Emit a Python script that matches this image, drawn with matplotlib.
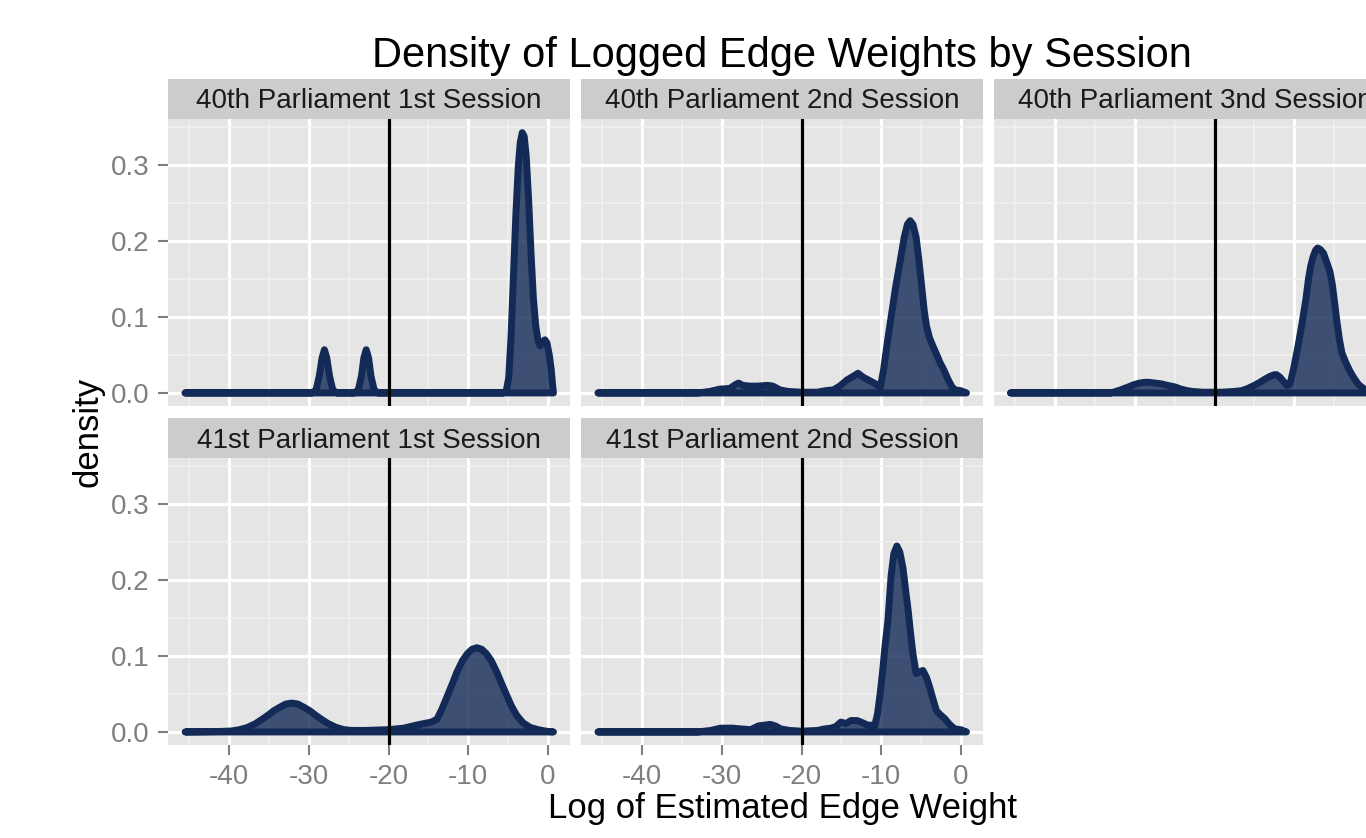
import matplotlib
matplotlib.use("Agg")
import matplotlib.pyplot as plt
from matplotlib.colors import to_rgba

plt.rcParams['font.family'] = ['Liberation Sans', 'DejaVu Sans']
plt.rcParams['axes.unicode_minus'] = False

# ---------------- data ----------------
TITLE = "Density of Logged Edge Weights by Session"
XLABEL = "Log of Estimated Edge Weight"
YLABEL = "density"
sessions = ["40th Parliament 1st Session", "40th Parliament 2nd Session",
            "40th Parliament 3nd Session", "41st Parliament 1st Session",
            "41st Parliament 2nd Session"]
threshold = -20
x_ticks = [-40, -30, -20, -10, 0]
x_tick_labels = ["-40", "-30", "-20", "-10", "0"]
x_minor = [-45, -35, -25, -15, -5]
y_ticks = [0.0, 0.1, 0.2, 0.3]
y_tick_labels = ["0.0", "0.1", "0.2", "0.3"]
y_minor = [0.05, 0.15, 0.25, 0.35]

s1_x = [-45.55, -29.6, -29.1, -28.7, -28.35, -28.05, -27.75, -27.4, -27.0, -26.5,
        -24.3, -23.8, -23.4, -23.1, -22.8, -22.5, -22.2, -21.8, -21.3,
        -5.6, -5.2, -4.9, -4.6, -4.3, -4.0, -3.7, -3.45, -3.2, -2.95, -2.7, -2.4,
        -2.1, -1.8, -1.5, -1.2, -0.95, -0.65, -0.35, -0.1, 0.2, 0.45, 0.6, 0.72]
s1_y = [0, 0, 0.004, 0.022, 0.046, 0.057, 0.046, 0.022, 0.004, 0,
        0, 0.004, 0.022, 0.046, 0.057, 0.046, 0.022, 0.004, 0,
        0, 0.003, 0.02, 0.075, 0.155, 0.235, 0.298, 0.33, 0.343, 0.338, 0.312, 0.255,
        0.185, 0.125, 0.088, 0.068, 0.062, 0.067, 0.070, 0.066, 0.05, 0.03, 0.012, 0]

s2_x = [-45.55, -33.0, -31.5, -30.3, -29.0, -28.3, -27.9, -27.4, -26.5, -25.5,
        -24.3, -23.6, -22.7, -21.7, -20.0, -18.0, -17.0, -16.0, -15.2, -14.3,
        -13.5, -12.9, -12.3, -11.4, -10.7, -10.1, -9.7, -9.2, -8.7, -8.2,
        -7.7, -7.1, -6.7, -6.35, -6.0, -5.6, -5.2, -4.9, -4.6, -4.3,
        -3.9, -3.5, -3.0, -2.6, -2.1, -1.6, -1.1, -0.7, 0.0, 0.72]
s2_y = [0, 0, 0.002, 0.005, 0.006, 0.011, 0.013, 0.010, 0.009, 0.009,
        0.010, 0.009, 0.004, 0.002, 0.001, 0.001, 0.003, 0.004, 0.009, 0.017,
        0.022, 0.026, 0.021, 0.016, 0.012, 0.007, 0.03, 0.068, 0.103, 0.138,
        0.168, 0.205, 0.222, 0.227, 0.222, 0.205, 0.17, 0.14, 0.11, 0.088,
        0.072, 0.062, 0.050, 0.040, 0.030, 0.018, 0.008, 0.004, 0.003, 0]

s3_x = [-45.6, -33.0, -31.8, -30.8, -30.1, -29.4, -28.8, -28.2, -27.5, -26.7,
        -25.9, -25.0, -24.2, -23.4, -22.8, -21.5, -19.0, -17.5, -16.6, -15.8,
        -15.0, -14.3, -13.7, -13.0, -12.5, -12.2, -11.8, -11.4, -10.9, -10.5,
        -10.0, -9.5, -9.0, -8.5, -8.2, -7.9, -7.6, -7.3, -7.05, -6.7,
        -6.3, -5.9, -5.5, -5.2, -4.9, -4.6, -4.3, -4.0, -3.5, -3.0,
        -2.5, -1.9, -1.3, -0.7, 0.0, 0.72]
s3_y = [0, 0, 0.004, 0.008, 0.011, 0.013, 0.014, 0.014, 0.013, 0.012,
        0.010, 0.008, 0.005, 0.003, 0.002, 0.001, 0.001, 0.002, 0.003, 0.006,
        0.010, 0.014, 0.018, 0.022, 0.024, 0.024, 0.021, 0.016, 0.010, 0.012,
        0.035, 0.062, 0.092, 0.125, 0.150, 0.168, 0.180, 0.188, 0.191, 0.189,
        0.184, 0.172, 0.160, 0.143, 0.118, 0.092, 0.070, 0.053, 0.040, 0.029,
        0.020, 0.011, 0.006, 0.003, 0.002, 0]

s4_x = [-45.55, -41.5, -39.7, -38.7, -37.7, -36.7, -35.9, -35.15, -34.4, -33.65,
        -32.9, -32.15, -31.4, -30.65, -29.9, -29.15, -28.4, -27.65, -26.65, -25.65,
        -24.65, -23.0, -20.0, -18.1, -16.5, -15.6, -14.6, -13.9, -13.3, -12.7,
        -12.0, -11.4, -10.7, -10.1, -9.5, -8.9, -8.3, -7.7, -7.1, -6.4,
        -5.8, -5.1, -4.5, -3.9, -3.1, -2.2, -1.2, -0.2, 0.72]
s4_y = [0, 0.0005, 0.0013, 0.003, 0.006, 0.011, 0.0165, 0.022, 0.028, 0.0326,
        0.0368, 0.038, 0.0368, 0.0326, 0.028, 0.022, 0.0165, 0.0114, 0.0063, 0.0031,
        0.002, 0.002, 0.003, 0.005, 0.009, 0.011, 0.013, 0.017, 0.030, 0.045,
        0.063, 0.079, 0.094, 0.103, 0.109, 0.111, 0.109, 0.103, 0.094, 0.079,
        0.064, 0.047, 0.033, 0.022, 0.012, 0.006, 0.003, 0.001, 0]

s5_x = [-45.55, -33.0, -31.4, -30.2, -29.4, -28.7, -27.6, -26.4, -25.4, -24.6,
        -23.95, -23.3, -22.6, -21.5, -20.0, -18.0, -17.1, -16.3, -15.7, -15.05,
        -14.4, -13.8, -13.0, -12.3, -11.7, -11.25, -10.85, -10.45, -10.1, -9.8,
        -9.5, -9.15, -8.75, -8.4, -8.02, -7.65, -7.25, -6.9, -6.6, -6.3,
        -6.0, -5.6, -5.2, -4.75, -4.3, -3.9, -3.5, -3.05, -2.5, -2.0,
        -1.4, -0.75, 0.0, 0.72]
s5_y = [0, 0, 0.002, 0.005, 0.005, 0.005, 0.004, 0.003, 0.008, 0.009,
        0.010, 0.008, 0.004, 0.002, 0.001, 0.002, 0.004, 0.005, 0.007, 0.013,
        0.011, 0.015, 0.015, 0.012, 0.009, 0.009, 0.006, 0.024, 0.052, 0.081,
        0.114, 0.146, 0.205, 0.235, 0.245, 0.237, 0.216, 0.185, 0.160, 0.130,
        0.103, 0.077, 0.079, 0.081, 0.072, 0.059, 0.044, 0.028, 0.022, 0.0175,
        0.010, 0.004, 0.003, 0]

series = [(s1_x, s1_y), (s2_x, s2_y), (s3_x, s3_y), (s4_x, s4_y), (s5_x, s5_y)]

# ---------------- style / layout ----------------
W, H, DPI = 1366, 838, 100
NAVY = "#132a57"
XLIM = (-47.7, 2.8)
YLIM = (-0.0172, 0.361)

fig = plt.figure(figsize=(W / DPI, H / DPI), dpi=DPI)
fig.patch.set_facecolor('white')


def px_axes(left, top, width, height):
    return fig.add_axes([left / W, 1 - (top + height) / H, width / W, height / H])


col_left = [168, 581, 994]
row_top = [119, 458]
pw, ph = 402, 287
strip_h = 40
grid = [(0, 0), (0, 1), (0, 2), (1, 0), (1, 1)]

for i, (r, c) in enumerate(grid):
    ax = px_axes(col_left[c], row_top[r], pw, ph)
    ax.set_facecolor('#E5E5E5')
    for s in ax.spines.values():
        s.set_visible(False)
    ax.set_xlim(XLIM)
    ax.set_ylim(YLIM)
    ax.set_xticks(x_ticks)
    ax.set_xticks(x_minor, minor=True)
    ax.set_yticks(y_ticks)
    ax.set_yticks(y_minor, minor=True)
    ax.grid(which='major', color='white', lw=2.3)
    ax.grid(which='minor', color='#F2F2F2', lw=1.1)
    ax.set_axisbelow(True)
    ax.tick_params(which='minor', length=0)
    ax.tick_params(which='major', length=7.5, width=1.5, color='#7F7F7F',
                   labelcolor='#7F7F7F', labelsize=20)
    ax.tick_params(axis='x', pad=6.5)
    ax.tick_params(axis='y', pad=6.0)
    if r == 1:
        ax.set_xticklabels(x_tick_labels)
    else:
        ax.tick_params(axis='x', which='major', length=0, labelbottom=False)
    if c == 0:
        ax.set_yticklabels(y_tick_labels)
    else:
        ax.tick_params(axis='y', which='major', length=0, labelleft=False)

    xs, ys = series[i]
    poly_x = [xs[0]] + list(xs) + [xs[-1]]
    poly_y = [0] + list(ys) + [0]
    ax.fill(poly_x, poly_y, facecolor=to_rgba(NAVY, 0.8), edgecolor=NAVY,
            lw=5.0, joinstyle='round', capstyle='round', zorder=2)
    ax.axvline(threshold, color='black', lw=2.3, zorder=3)

    sax = px_axes(col_left[c], row_top[r] - strip_h, pw, strip_h)
    sax.set_facecolor('#CCCCCC')
    sax.set_xticks([])
    sax.set_yticks([])
    for s in sax.spines.values():
        s.set_visible(False)
    sax.text(0.5, 10.5 / strip_h, sessions[i], ha='center', va='baseline',
             fontsize=20, color='#1A1A1A', transform=sax.transAxes)

fig.text(782 / W, 1 - 67 / H, TITLE, ha='center', va='baseline', fontsize=30, color='black')
fig.text(782 / W, 1 - 818 / H, XLABEL, ha='center', va='baseline', fontsize=25, color='black')
fig.text(98 / W, 1 - 432 / H, YLABEL, ha='center', va='baseline', rotation=90,
         rotation_mode='anchor', fontsize=25, color='black')

fig.savefig("out.png", dpi=DPI)
